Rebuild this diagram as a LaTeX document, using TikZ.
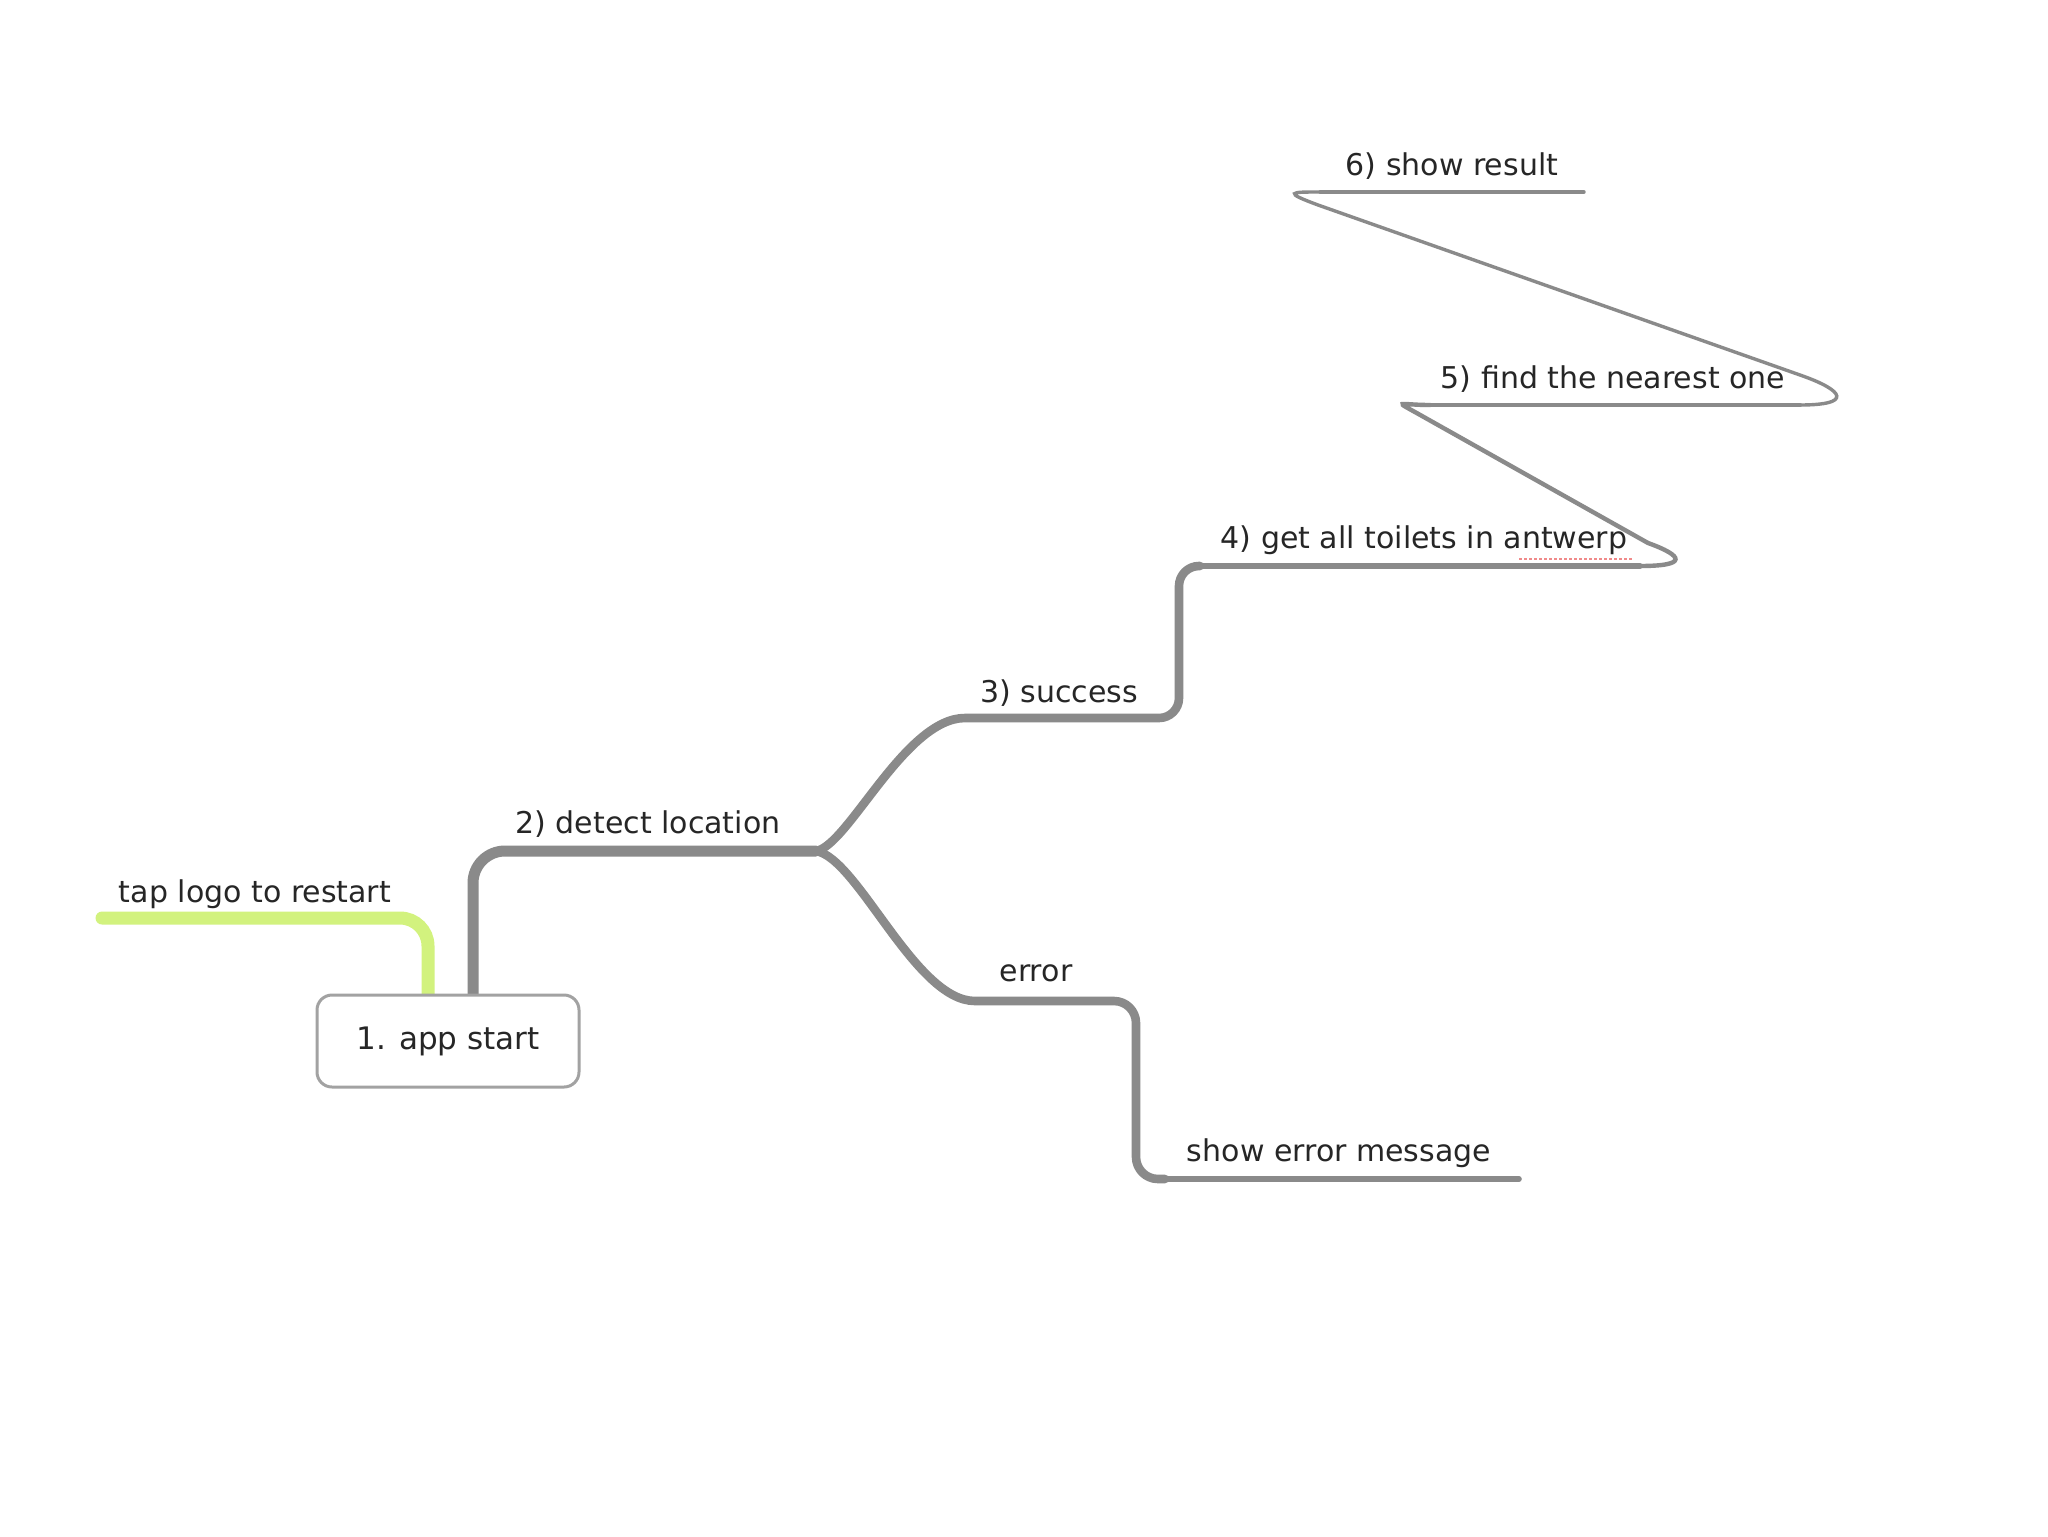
\documentclass[tikz,border=0pt]{standalone}
\usepackage{fontspec}
\setmainfont{DejaVu Sans}
\definecolor{branch}{HTML}{8A8A8A}
\definecolor{boxline}{HTML}{A2A2A2}
\definecolor{lime}{HTML}{D2F27E}
\definecolor{txt}{HTML}{262626}
\definecolor{spell}{HTML}{F08A8A}
\begin{document}
\begin{tikzpicture}[x=0.5pt,y=-0.5pt,
  lbl/.style={font=\fontsize{15}{18}\selectfont, text=txt, inner sep=0pt},
  thick1/.style={draw=branch, line width=5.5pt, line cap=round, line join=round},
  thick2/.style={draw=branch, line width=4.3pt, line cap=round, line join=round},
  thick3/.style={draw=branch, line width=2.8pt, line cap=round},
  thin1/.style={draw=branch, line width=2.2pt, line cap=round},
  thin2/.style={draw=branch, line width=1.7pt, line cap=round},
  startbox/.style={draw=boxline, line width=1.5pt, fill=white, rounded corners=7.5pt,
    minimum width=131pt, minimum height=46pt, inner sep=0pt,
    font=\fontsize{15.5}{18}\selectfont, text=txt}]
\useasboundingbox[fill=white] (0,0) rectangle (2048,1536);

% coordinates of underlines / branch points
\coordinate (boxtopA) at (473,1000);
\coordinate (boxtopG) at (428,1000);
\coordinate (fork) at (816,851);
\coordinate (u3a) at (965,718);
\coordinate (u4a) at (1200,566);
\coordinate (u4b) at (1640,566);
\coordinate (u5a) at (1430,405);
\coordinate (u5b) at (1800,405);
\coordinate (u6a) at (1320,192);
\coordinate (u6b) at (1584,192);
\coordinate (uea) at (975,1001);
\coordinate (usa) at (1165,1179);
\coordinate (usb) at (1519,1179);
\coordinate (greenend) at (102,918);

% green branch
\draw[draw=lime, line width=6.5pt, line cap=round, rounded corners=14pt]
  (boxtopG) -- (428,918) -- (greenend);

% trunk: app start -> detect location
\draw[thick1, rounded corners=16pt] (boxtopA) -- (473,851) -- (fork);

% upper branch -> success -> 4
\draw[thick2] (fork) .. controls (848,846) and (905,718) .. (u3a)
  {[rounded corners=10pt] -- (1179,718) -- (1179,566) -- (u4a)};
% 4 underline
\draw[thick3] (u4a) -- (u4b);
% 4 -> 5
\draw[thin1] (u4b) .. controls (1688,566) and (1684,556) .. (1648,543)
  -- (1422,416) .. controls (1392,399) and (1398,405) .. (u5a);
\draw[thin1] (u5a) -- (u5b);
% 5 -> 6
\draw[thin2] (u5b) .. controls (1852,405) and (1846,391) .. (1800,375)
  -- (1318,205) .. controls (1283,192) and (1290,192) .. (u6a);
\draw[thin2] (u6a) -- (u6b);

% lower branch -> error -> show error message
\draw[thick2] (fork) .. controls (858,858) and (915,1001) .. (uea)
  {[rounded corners=11pt] -- (1136,1001) -- (1136,1179) -- (usa)};
\draw[thick3] (usa) -- (usb);

% start box
\node[startbox] (start) at (448,1041) {1. app start};

% labels
\node[lbl] (tap) at (255,894) {tap logo to restart};
\node[lbl] (t2) at (648,824) {2) detect location};
\node[lbl] (t3) at (1059,693) {3) success};
\node[lbl] (t4) at (1424,540) {4) get all toilets in antwerp};
\node[lbl] (t5) at (1613,379) {5) find the nearest one};
\node[lbl] (t6) at (1452,166) {6) show result};
\node[lbl] (terr) at (1036,973) {error};
\node[lbl] (tmsg) at (1339,1153) {show error message};

% spell-check marks under "antwerp"
\draw[spell, line width=0.9pt, dash pattern=on 1.5pt off 1pt] (1519,559) -- (1634,559);
\end{tikzpicture}
\end{document}
